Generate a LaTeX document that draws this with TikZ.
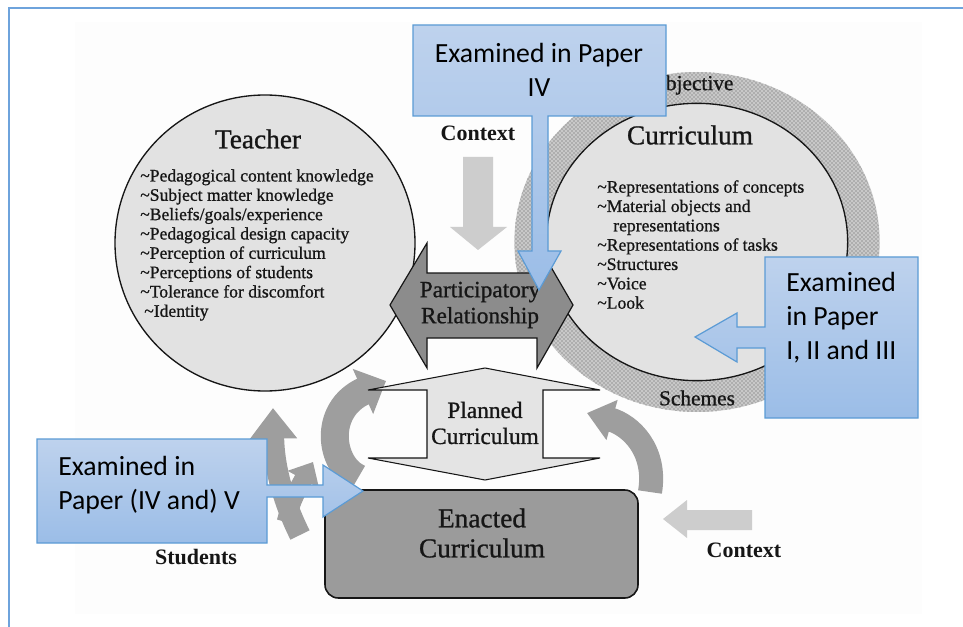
\documentclass[tikz,border=0pt]{standalone}
\usepackage{fontspec}
\setmainfont{Liberation Serif}
\newfontfamily\scanfont[FakeBold=0.9]{Liberation Serif}
\newfontfamily\calloutfont{Carlito}
\usetikzlibrary{arrows.meta,patterns}

\definecolor{calloutedge}{RGB}{91,155,213}
\definecolor{callouttop}{RGB}{190,210,237}
\definecolor{calloutbot}{RGB}{155,189,231}
\definecolor{framecol}{RGB}{110,163,220}
\definecolor{scanbg}{RGB}{253,253,253}
\definecolor{discfill}{RGB}{226,226,226}
\definecolor{ringfill}{RGB}{200,200,200}
\definecolor{partfill}{RGB}{140,140,140}
\definecolor{enactfill}{RGB}{155,155,155}
\definecolor{plannedfill}{RGB}{228,228,228}
\definecolor{swirl}{RGB}{158,158,158}
\definecolor{ctxarrow}{RGB}{205,205,205}
\definecolor{ink}{RGB}{22,22,22}

\newcommand\itm{\textasciitilde}

\begin{document}
\begin{tikzpicture}[x=0.75pt,y=-0.75pt]
\tikzset{
  scantext/.style={text=ink, inner sep=0pt},
  discttl/.style={scantext, font=\scanfont\fontsize{20.5}{22}\selectfont},
  listtext/.style={scantext, align=left, anchor=north west, font=\scanfont\fontsize{13.2}{14.5}\selectfont},
  shapelabel/.style={scantext, align=center, font=\scanfont\fontsize{17.5}{19.5}\selectfont},
  boldlabel/.style={scantext, font=\fontsize{16.5}{18}\selectfont\bfseries},
  ringlabel/.style={scantext, font=\scanfont\fontsize{16}{18}\selectfont},
  outline/.style={draw=ink, line width=0.9pt, line join=miter},
  ctxshape/.style={fill=ctxarrow},
  swirlarrow/.style={draw=swirl, line width=18pt},
  callout/.style={draw=calloutedge, line width=0.9pt, top color=callouttop, bottom color=calloutbot},
  callouttext/.style={inner sep=0pt, text=black, font=\calloutfont\fontsize{20.8}{25.5}\selectfont}
}
\useasboundingbox (0,0) rectangle (963,627);
\fill[white] (0,0) rectangle (963,627);

% scanned figure area
\fill[scanbg] (75,22) rectangle (922,614);

% Teacher disc
\path[fill=discfill, draw=ink, line width=1pt] (265,243) ellipse [x radius=112.5pt, y radius=111pt];
\node[discttl] (teacher) at (258,139) {Teacher};
\node[listtext] (teacherlist) at (140,169) {%
\itm Pedagogical content knowledge\\
\itm Subject matter knowledge\\
\itm Beliefs/goals/experience\\
\itm Pedagogical design capacity\\
\itm Perception of curriculum\\
\itm Perceptions of students\\
\itm Tolerance for discomfort\\
\hspace*{3pt}\itm Identity};

% Curriculum disc with its dotted ring
\fill[ringfill] (697,242) ellipse [x radius=137pt, y radius=127.5pt];
\fill[pattern=crosshatch dots, pattern color=black!65] (697,242) ellipse [x radius=137pt, y radius=127.5pt];
\path[fill=discfill, draw=ink, line width=1pt] (697,242) ellipse [x radius=113pt, y radius=104pt];
\node[ringlabel] (objective) at (692,85) {Objective};
\node[ringlabel] (schemes) at (697,398) {Schemes};
\node[discttl] (curriculum) at (690,135) {Curriculum};
\node[listtext] (curriculumlist) at (597,180) {%
\itm Representations of concepts\\
\itm Material objects and\\
\hspace*{12pt}representations\\
\itm Representations of tasks\\
\itm Structures\\
\itm Voice\\
\itm Look};

% context arrows
\node[boldlabel] (ctxtop) at (478,133) {Context};
\fill[ctxshape] (463,157) -- (493,157) -- (493,227) -- (507,227) -- (478,250) -- (450,227) -- (463,227) -- cycle;
\node[boldlabel] (ctxbottom) at (744,550) {Context};
\fill[ctxshape] (663,519) -- (687,500) -- (687,510) -- (752,510) -- (752,530) -- (687,530) -- (687,538) -- cycle;

% curved arrows around the planned curriculum
\draw[swirlarrow, line width=21pt, -{Triangle[length=19pt,width=36pt]}]
  (358,478) .. controls (330,465) and (322,410) .. (386,381);
\draw[swirlarrow, -{Triangle[length=19.5pt,width=30pt]}]
  (650,492) .. controls (657,450) and (630,425) .. (587,413);

% students arrows
\draw[swirlarrow, line width=16pt, -{Triangle[length=23pt,width=34pt]}]
  (300,535) .. controls (285,505) and (274,470) .. (273,408);
\draw[swirlarrow, line width=14pt, -{Triangle[length=15pt,width=26pt]}]
  (286,522) .. controls (292,500) .. (313,462);
\node[boldlabel] (students) at (196,557) {Students};

% participatory relationship
\path[outline, fill=partfill] (390,305) -- (427,243) -- (427,273) -- (537,273) -- (537,243) -- (573,305)
  -- (537,368) -- (537,338) -- (427,338) -- (427,368) -- cycle;
\node[shapelabel] (participatory) at (480,305) {Participatory\\Relationship};

% planned curriculum
\path[outline, fill=plannedfill, line width=0.8pt] (485,368) -- (600,390) -- (543,390) -- (543,458) -- (600,458)
  -- (485,480) -- (368,458) -- (427,458) -- (427,390) -- (368,390) -- cycle;
\node[shapelabel] (planned) at (485,423) {Planned\\Curriculum};

% enacted curriculum
\path[outline, fill=enactfill, line width=1.2pt, rounded corners=10pt] (325,490) rectangle (638,598);
\node[discttl, align=center, font=\scanfont\fontsize{20.5}{22.5}\selectfont] (enacted) at (482,533) {Enacted\\Curriculum};

% callouts
\path[callout] (413,25) -- (666,25) -- (666,116) -- (548,116) -- (548,251) -- (561,251) -- (539,290)
  -- (518,251) -- (532,251) -- (532,116) -- (413,116) -- cycle;
\node[callouttext, align=center] (paperfour) at (539,70) {Examined in Paper\\IV};

\path[callout] (765,257) -- (918,257) -- (918,418) -- (765,418) -- (765,348) -- (737,348) -- (737,362)
  -- (695,337) -- (737,313) -- (737,327) -- (765,327) -- cycle;
\node[callouttext, align=left, anchor=west] (papersone) at (786,318) {Examined\\in Paper\\I, II and III};

\path[callout] (37,439) -- (267,439) -- (267,485) -- (323,485) -- (323,465) -- (363,491) -- (323,517)
  -- (323,497) -- (267,497) -- (267,543) -- (37,543) -- cycle;
\node[callouttext, align=left, anchor=west] (paperfive) at (58,485) {Examined in\\Paper (IV and) V};

% frame
\draw[framecol, line width=1.5pt] (9,627) -- (9,8) -- (963,8);
\end{tikzpicture}
\end{document}
